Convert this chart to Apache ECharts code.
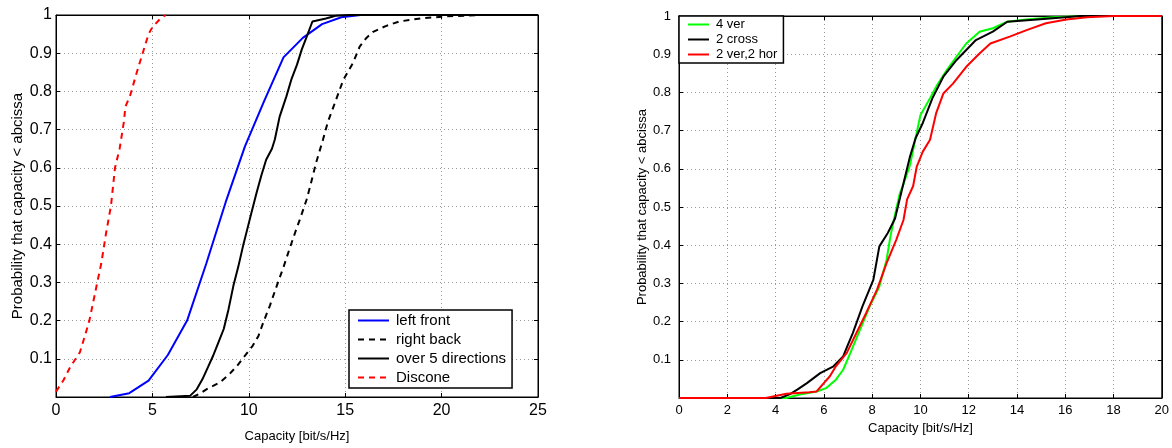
<!DOCTYPE html>
<html>
<head>
<meta charset="utf-8">
<title>Capacity CDF</title>
<script src="https://cdn.jsdelivr.net/npm/echarts@6/dist/echarts.min.js"></script>
<style>
  html, body { margin: 0; padding: 0; background: #fff; }
  #chart { width: 1172px; height: 448px; }
</style>
</head>
<body>
<div id="chart"></div>
<script>
// left panel: [capacity, probability]
const leftFront = [
  [2.8, 0], [3.8, 0.01], [4.8, 0.043], [5.8, 0.11], [6.8, 0.2], [7.8, 0.35],
  [8.8, 0.51], [9.8, 0.656], [10.8, 0.775], [11.8, 0.889], [12.8, 0.94],
  [13.8, 0.976], [14.8, 0.994], [15.8, 1], [25, 1]
]
const rightBack = [
  [7.1, 0], [7.5, 0.01], [7.8, 0.02], [8.5, 0.038], [9.0, 0.06], [9.4, 0.082],
  [10.2, 0.134], [10.5, 0.16], [10.75, 0.195], [11.1, 0.24], [11.45, 0.291],
  [11.8, 0.34], [12.1, 0.386], [12.4, 0.43], [12.65, 0.465], [13.0, 0.517],
  [13.2, 0.555], [13.5, 0.615], [13.85, 0.674], [14.1, 0.72], [14.4, 0.761],
  [14.9, 0.83], [15.4, 0.874], [15.75, 0.917], [16.1, 0.94], [16.45, 0.956],
  [17.1, 0.971], [17.8, 0.983], [18.9, 0.991], [20.1, 0.996], [22, 1], [25, 1]
]
const overFive = [
  [5.7, 0], [6.95, 0.003], [7.3, 0.02], [7.6, 0.047], [7.9, 0.08], [8.15, 0.108],
  [8.4, 0.14], [8.7, 0.178], [8.95, 0.23], [9.2, 0.291], [9.45, 0.34],
  [9.7, 0.395], [10.05, 0.465], [10.4, 0.534], [10.65, 0.58], [10.9, 0.621],
  [11.2, 0.65], [11.35, 0.674], [11.6, 0.734], [11.95, 0.787], [12.2, 0.83],
  [12.5, 0.87], [12.75, 0.91], [13.0, 0.943], [13.3, 0.983], [14.0, 0.991],
  [14.5, 0.998], [15.2, 1], [25, 1]
]
const discone = [
  [0, 0.014], [0.4, 0.045], [0.73, 0.078], [1.24, 0.117], [1.5, 0.16],
  [1.73, 0.2], [2.1, 0.29], [2.35, 0.35], [2.6, 0.43], [2.85, 0.5],
  [3.06, 0.6], [3.3, 0.65], [3.52, 0.72], [3.6, 0.76], [3.85, 0.79],
  [4.18, 0.848], [4.52, 0.904], [4.8, 0.95], [5.0, 0.968], [5.4, 0.99],
  [5.7, 1]
]

// right panel
const fourVer = [
  [0, 0], [4.45, 0], [5.0, 0.009], [5.7, 0.017], [6.1, 0.026], [6.5, 0.048],
  [6.8, 0.074], [7.1, 0.118], [7.5, 0.179], [7.9, 0.24], [8.3, 0.292],
  [8.6, 0.362], [8.75, 0.42], [8.9, 0.466], [9.15, 0.536], [9.3, 0.56],
  [9.57, 0.61], [9.8, 0.68], [10.0, 0.74], [10.4, 0.785], [10.7, 0.82],
  [11.1, 0.859], [11.5, 0.894], [11.9, 0.928], [12.45, 0.959], [13.0, 0.968],
  [13.6, 0.985], [14.4, 0.991], [15.5, 0.997], [16.3, 0.999], [17, 1], [20, 1]
]
const twoCross = [
  [0, 0], [4.2, 0], [4.6, 0.01], [4.9, 0.022], [5.3, 0.039], [5.85, 0.065],
  [6.4, 0.083], [6.8, 0.109], [7.0, 0.14], [7.2, 0.17], [7.6, 0.24],
  [8.05, 0.309], [8.3, 0.397], [8.65, 0.432], [8.95, 0.47], [9.3, 0.562],
  [9.57, 0.632], [9.8, 0.68], [10.1, 0.72], [10.5, 0.785], [10.95, 0.841],
  [11.5, 0.885], [11.9, 0.911], [12.3, 0.937], [13.0, 0.959], [13.6, 0.985],
  [14.7, 0.99], [16.0, 0.997], [16.6, 1], [20, 1]
]
const twoVerTwoHor = [
  [0, 0], [3.6, 0], [4.45, 0.011], [5.4, 0.015], [5.7, 0.017], [6.0, 0.039],
  [6.25, 0.057], [6.5, 0.083], [6.95, 0.118], [7.35, 0.17], [7.75, 0.222],
  [8.2, 0.283], [8.6, 0.353], [9.0, 0.414], [9.3, 0.466], [9.45, 0.52],
  [9.7, 0.555], [9.85, 0.606], [10.1, 0.645], [10.4, 0.676], [10.65, 0.745],
  [10.95, 0.797], [11.35, 0.823], [11.9, 0.867], [12.45, 0.902], [12.9, 0.928],
  [13.7, 0.946], [14.4, 0.963], [15.2, 0.981], [16.05, 0.991], [16.9, 0.997],
  [18, 1], [20, 1]
]

const font = 'Liberation Sans, Arial, Helvetica, sans-serif'
const gridLine = { show: true, lineStyle: { color: '#9a9a9a', type: [1, 3], width: 1 } }
const hideZero = (v) => (v === 0 ? '' : String(v))

function boxAxis(gridIndex, position, min, max, interval) {
  return {
    gridIndex, position, type: 'value', min, max, interval,
    axisLine: { show: true, onZero: false, lineStyle: { color: '#000', width: 1 } },
    axisTick: { show: true, inside: true, length: 4, lineStyle: { color: '#000' } },
    axisLabel: { show: false },
    splitLine: { show: false }
  }
}

const chart = echarts.init(document.getElementById('chart'), null, { renderer: 'canvas' })

function lineSeries(name, data, color, dashed, xi, yi) {
  return {
    name, type: 'line', data, xAxisIndex: xi, yAxisIndex: yi,
    symbol: 'none', silent: true, animation: false,
    lineStyle: { color, width: 2, type: dashed ? [6, 5] : 'solid' },
    itemStyle: { color }
  }
}

chart.setOption({
  animation: false,
  textStyle: { fontFamily: font },
  grid: [
    { left: 56, right: 634, top: 15, bottom: 50, show: true, borderColor: '#000', borderWidth: 1 },
    { left: 679, right: 10, top: 16, bottom: 50, show: true, borderColor: '#000', borderWidth: 1 }
  ],
  legend: [
    {
      orient: 'vertical', left: 349, top: 310, width: 184, height: 82,
      padding: [3, 6, 3, 8], itemGap: 4, itemWidth: 31, itemHeight: 16,
      backgroundColor: '#fff', borderColor: '#000', borderWidth: 1.5, borderRadius: 0,
      itemStyle: { opacity: 0 },
      textStyle: { fontSize: 15, color: '#000', fontFamily: font, padding: [0, 0, 0, 2] },
      data: ['left front', 'right back', 'over 5 directions', 'Discone']
    },
    {
      orient: 'vertical', left: 679, top: 16, width: 106, height: 48,
      padding: [2, 6, 2, 8], itemGap: 2, itemWidth: 21, itemHeight: 14,
      backgroundColor: '#fff', borderColor: '#000', borderWidth: 1.5, borderRadius: 0,
      itemStyle: { opacity: 0 },
      textStyle: { fontSize: 13, color: '#000', fontFamily: font, padding: [0, 0, 0, 2] },
      data: ['4 ver', '2 cross', '2 ver,2 hor']
    }
  ],
  xAxis: [
    {
      gridIndex: 0, type: 'value', min: 0, max: 25, interval: 5,
      name: 'Capacity [bit/s/Hz]', nameLocation: 'middle', nameGap: 33,
      nameTextStyle: { fontSize: 13, color: '#000' },
      axisLine: { show: true, onZero: false, lineStyle: { color: '#000' } },
      axisTick: { show: true, inside: true, length: 4, lineStyle: { color: '#000' } },
      axisLabel: { fontSize: 16, color: '#000', margin: 6 },
      splitLine: gridLine
    },
    {
      gridIndex: 1, type: 'value', min: 0, max: 20, interval: 2,
      name: 'Capacity [bit/s/Hz]', nameLocation: 'middle', nameGap: 20,
      nameTextStyle: { fontSize: 13, color: '#000' },
      axisLine: { show: true, onZero: false, lineStyle: { color: '#000' } },
      axisTick: { show: true, inside: true, length: 4, lineStyle: { color: '#000' } },
      axisLabel: { fontSize: 13, color: '#000', margin: 6 },
      splitLine: gridLine
    },
    boxAxis(0, 'top', 0, 25, 5),
    boxAxis(1, 'top', 0, 20, 2)
  ],
  yAxis: [
    {
      gridIndex: 0, type: 'value', min: 0, max: 1, interval: 0.1,
      name: 'Probability that capacity < abcissa', nameLocation: 'middle', nameGap: 31,
      nameTextStyle: { fontSize: 15, color: '#000' },
      axisLine: { show: true, onZero: false, lineStyle: { color: '#000' } },
      axisTick: { show: true, inside: true, length: 4, lineStyle: { color: '#000' } },
      axisLabel: { fontSize: 16, color: '#000', margin: 4, formatter: hideZero },
      splitLine: gridLine
    },
    {
      gridIndex: 1, type: 'value', min: 0, max: 1, interval: 0.1,
      name: 'Probability that capacity < abcissa', nameLocation: 'middle', nameGap: 26,
      nameTextStyle: { fontSize: 13, color: '#000' },
      axisLine: { show: true, onZero: false, lineStyle: { color: '#000' } },
      axisTick: { show: true, inside: true, length: 4, lineStyle: { color: '#000' } },
      axisLabel: { fontSize: 13, color: '#000', margin: 8, formatter: hideZero },
      splitLine: gridLine
    },
    boxAxis(0, 'right', 0, 1, 0.1),
    boxAxis(1, 'right', 0, 1, 0.1)
  ],
  series: [
    lineSeries('left front', leftFront, '#0000ff', false, 0, 0),
    lineSeries('right back', rightBack, '#000000', true, 0, 0),
    lineSeries('over 5 directions', overFive, '#000000', false, 0, 0),
    lineSeries('Discone', discone, '#ff0000', true, 0, 0),
    lineSeries('4 ver', fourVer, '#00ff00', false, 1, 1),
    lineSeries('2 cross', twoCross, '#000000', false, 1, 1),
    lineSeries('2 ver,2 hor', twoVerTwoHor, '#ff0000', false, 1, 1)
  ]
})
</script>
</body>
</html>
